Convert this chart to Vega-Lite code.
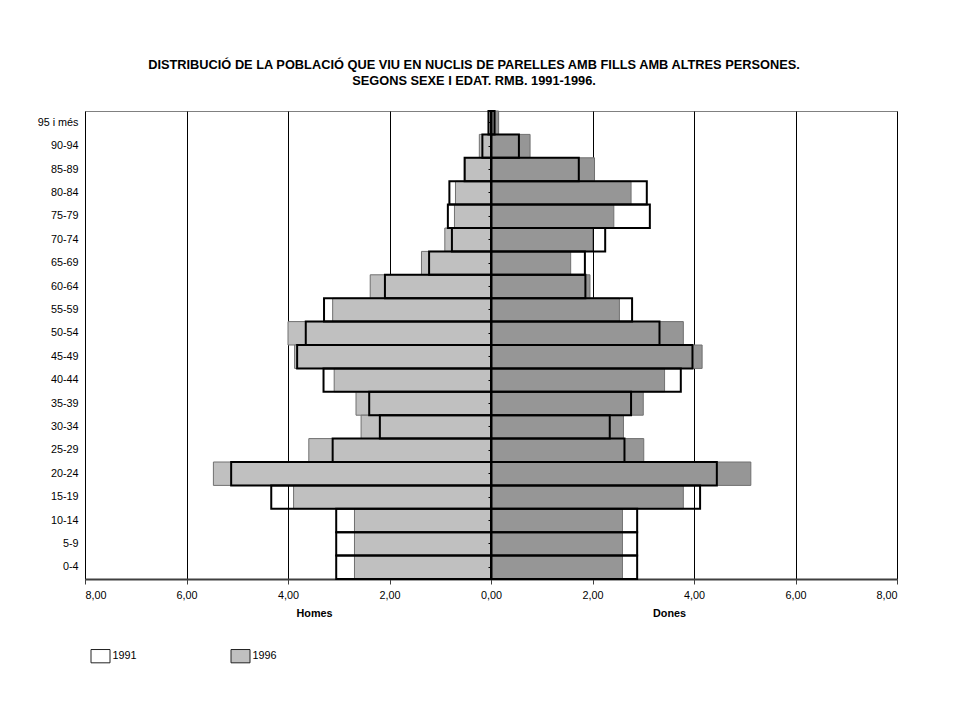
{
  "$schema": "https://vega.github.io/schema/vega-lite/v6.json",
  "width": 812,
  "height": 468,
  "autosize": {"type": "none"},
  "padding": {"left": 85, "top": 111, "right": 59, "bottom": 147},
  "background": "white",
  "title": {
    "text": ["DISTRIBUCIÓ DE LA POBLACIÓ QUE VIU EN NUCLIS DE PARELLES AMB FILLS AMB ALTRES PERSONES.", "SEGONS SEXE I EDAT. RMB. 1991-1996."],
    "font": "Liberation Sans",
    "fontSize": 12.8,
    "fontWeight": "bold",
    "color": "black",
    "lineHeight": 16,
    "anchor": "middle",
    "offset": 22,
    "dx": -17
  },
  "data": {
    "values": [
      {"edat": "95 i més", "any": "1991", "Homes": 0.05, "Dones": 0.07},
      {"edat": "90-94", "any": "1991", "Homes": 0.17, "Dones": 0.55},
      {"edat": "85-89", "any": "1991", "Homes": 0.52, "Dones": 1.73},
      {"edat": "80-84", "any": "1991", "Homes": 0.82, "Dones": 3.07},
      {"edat": "75-79", "any": "1991", "Homes": 0.85, "Dones": 3.13},
      {"edat": "70-74", "any": "1991", "Homes": 0.77, "Dones": 2.25},
      {"edat": "65-69", "any": "1991", "Homes": 1.22, "Dones": 1.85},
      {"edat": "60-64", "any": "1991", "Homes": 2.09, "Dones": 1.86},
      {"edat": "55-59", "any": "1991", "Homes": 3.29, "Dones": 2.78},
      {"edat": "50-54", "any": "1991", "Homes": 3.65, "Dones": 3.32},
      {"edat": "45-49", "any": "1991", "Homes": 3.82, "Dones": 3.97},
      {"edat": "40-44", "any": "1991", "Homes": 3.30, "Dones": 3.74},
      {"edat": "35-39", "any": "1991", "Homes": 2.40, "Dones": 2.76},
      {"edat": "30-34", "any": "1991", "Homes": 2.19, "Dones": 2.34},
      {"edat": "25-29", "any": "1991", "Homes": 3.12, "Dones": 2.63},
      {"edat": "20-24", "any": "1991", "Homes": 5.12, "Dones": 4.45},
      {"edat": "15-19", "any": "1991", "Homes": 4.33, "Dones": 4.12},
      {"edat": "10-14", "any": "1991", "Homes": 3.05, "Dones": 2.88},
      {"edat": "5-9", "any": "1991", "Homes": 3.05, "Dones": 2.88},
      {"edat": "0-4", "any": "1991", "Homes": 3.05, "Dones": 2.88},
      {"edat": "95 i més", "any": "1996", "Homes": 0.05, "Dones": 0.15},
      {"edat": "90-94", "any": "1996", "Homes": 0.23, "Dones": 0.77},
      {"edat": "85-89", "any": "1996", "Homes": 0.51, "Dones": 2.04},
      {"edat": "80-84", "any": "1996", "Homes": 0.70, "Dones": 2.76},
      {"edat": "75-79", "any": "1996", "Homes": 0.72, "Dones": 2.42},
      {"edat": "70-74", "any": "1996", "Homes": 0.91, "Dones": 2.00},
      {"edat": "65-69", "any": "1996", "Homes": 1.37, "Dones": 1.57},
      {"edat": "60-64", "any": "1996", "Homes": 2.38, "Dones": 1.95},
      {"edat": "55-59", "any": "1996", "Homes": 3.12, "Dones": 2.53},
      {"edat": "50-54", "any": "1996", "Homes": 4.00, "Dones": 3.79},
      {"edat": "45-49", "any": "1996", "Homes": 3.87, "Dones": 4.16},
      {"edat": "40-44", "any": "1996", "Homes": 3.09, "Dones": 3.42},
      {"edat": "35-39", "any": "1996", "Homes": 2.66, "Dones": 3.00},
      {"edat": "30-34", "any": "1996", "Homes": 2.56, "Dones": 2.61},
      {"edat": "25-29", "any": "1996", "Homes": 3.59, "Dones": 3.01},
      {"edat": "20-24", "any": "1996", "Homes": 5.47, "Dones": 5.12},
      {"edat": "15-19", "any": "1996", "Homes": 3.89, "Dones": 3.79},
      {"edat": "10-14", "any": "1996", "Homes": 2.69, "Dones": 2.59},
      {"edat": "5-9", "any": "1996", "Homes": 2.69, "Dones": 2.59},
      {"edat": "0-4", "any": "1996", "Homes": 2.69, "Dones": 2.59}
    ]
  },
  "transform": [{"fold": ["Homes", "Dones"], "as": ["sexe", "valor"]}],
  "layer": [
    {
      "transform": [{"filter": "datum.sexe == 'Homes'"}],
      "encoding": {
        "y": {
          "field": "edat", "type": "nominal",
          "sort": ["95 i més","90-94","85-89","80-84","75-79","70-74","65-69","60-64","55-59","50-54","45-49","40-44","35-39","30-34","25-29","20-24","15-19","10-14","5-9","0-4"],
          "scale": {"paddingInner": 0, "paddingOuter": 0},
          "axis": {"title": null, "orient": "left", "domain": false, "ticks": false, "labelPadding": 7, "labelFont": "Liberation Sans", "labelFontSize": 10.8, "labelColor": "black", "grid": false}
        },
        "x": {
          "field": "valor", "type": "quantitative",
          "scale": {"domain": [-8, 8], "reverse": true, "nice": false},
          "axis": {
            "orient": "bottom",
            "values": [-8, -6, -4, -2, 0, 2, 4, 6, 8],
            "labelExpr": "replace(format(abs(datum.value), '.2f'), '.', ',')",
            "grid": true, "gridColor": "black", "gridWidth": 1, "gridOpacity": 1,
            "domain": true, "domainColor": "#404040", "domainWidth": 2,
            "ticks": true, "tickColor": "#404040", "tickSize": 5, "tickWidth": 1,
            "labelPadding": 5, "labelFont": "Liberation Sans", "labelFontSize": 10.8, "labelColor": "black",
            "title": "Homes", "titleFont": "Liberation Sans", "titleFontSize": 10.8, "titleFontWeight": "bold", "titleColor": "black",
            "titleX": 229, "titleY": 34, "titleBaseline": "middle", "titleAlign": "center"
          }
        }
      },
      "layer": [
        {
          "transform": [{"filter": "datum.any == '1996'"}],
          "mark": {"type": "bar", "stroke": "#707070", "strokeWidth": 1},
          "encoding": {
            "fill": {
              "field": "any", "type": "nominal",
              "scale": {"domain": ["1991", "1996"], "range": ["white", "#c0c0c0"]},
              "legend": {
                "title": null, "orient": "none", "legendX": 5.5, "legendY": 535, "direction": "horizontal",
                "symbolType": "M-1,-0.7H1V0.7H-1Z", "symbolSize": 361,
                "symbolStrokeColor": "#222", "symbolStrokeWidth": 1, "symbolOpacity": 1,
                "labelFont": "Liberation Sans", "labelFontSize": 10.8, "labelColor": "black",
                "labelOffset": 2, "columnPadding": 91, "padding": 0
              }
            }
          }
        },
        {
          "transform": [{"filter": "datum.any == '1991'"}],
          "mark": {"type": "bar", "fill": "transparent", "stroke": "black", "strokeWidth": 2}
        }
      ]
    },
    {
      "transform": [{"filter": "datum.sexe == 'Dones'"}],
      "encoding": {
        "y": {
          "field": "edat", "type": "nominal",
          "sort": ["95 i més","90-94","85-89","80-84","75-79","70-74","65-69","60-64","55-59","50-54","45-49","40-44","35-39","30-34","25-29","20-24","15-19","10-14","5-9","0-4"],
          "scale": {"paddingInner": 0, "paddingOuter": 0},
          "axis": {"title": null, "orient": "left", "offset": -406, "labels": false, "grid": false, "domain": true, "domainColor": "black", "domainWidth": 2, "ticks": true, "tickColor": "black", "tickSize": 3, "tickWidth": 1, "zindex": 1}
        },
        "x": {
          "field": "valor", "type": "quantitative",
          "scale": {"domain": [-8, 8], "nice": false},
          "axis": {
            "orient": "bottom", "labels": false, "ticks": false, "domain": false, "grid": false,
            "title": "Dones", "titleFont": "Liberation Sans", "titleFontSize": 10.8, "titleFontWeight": "bold", "titleColor": "black",
            "titleX": 584, "titleY": 34, "titleBaseline": "middle", "titleAlign": "center"
          }
        }
      },
      "layer": [
        {
          "transform": [{"filter": "datum.any == '1996'"}],
          "mark": {"type": "bar", "fill": "#969696", "stroke": "#707070", "strokeWidth": 1}
        },
        {
          "transform": [{"filter": "datum.any == '1991'"}],
          "mark": {"type": "bar", "fill": "transparent", "stroke": "black", "strokeWidth": 2}
        }
      ]
    }
  ],
  "resolve": {"scale": {"x": "independent"}, "axis": {"x": "independent", "y": "independent"}},
  "config": {
    "font": "Liberation Sans",
    "view": {"stroke": "#808080", "strokeWidth": 1}
  }
}
